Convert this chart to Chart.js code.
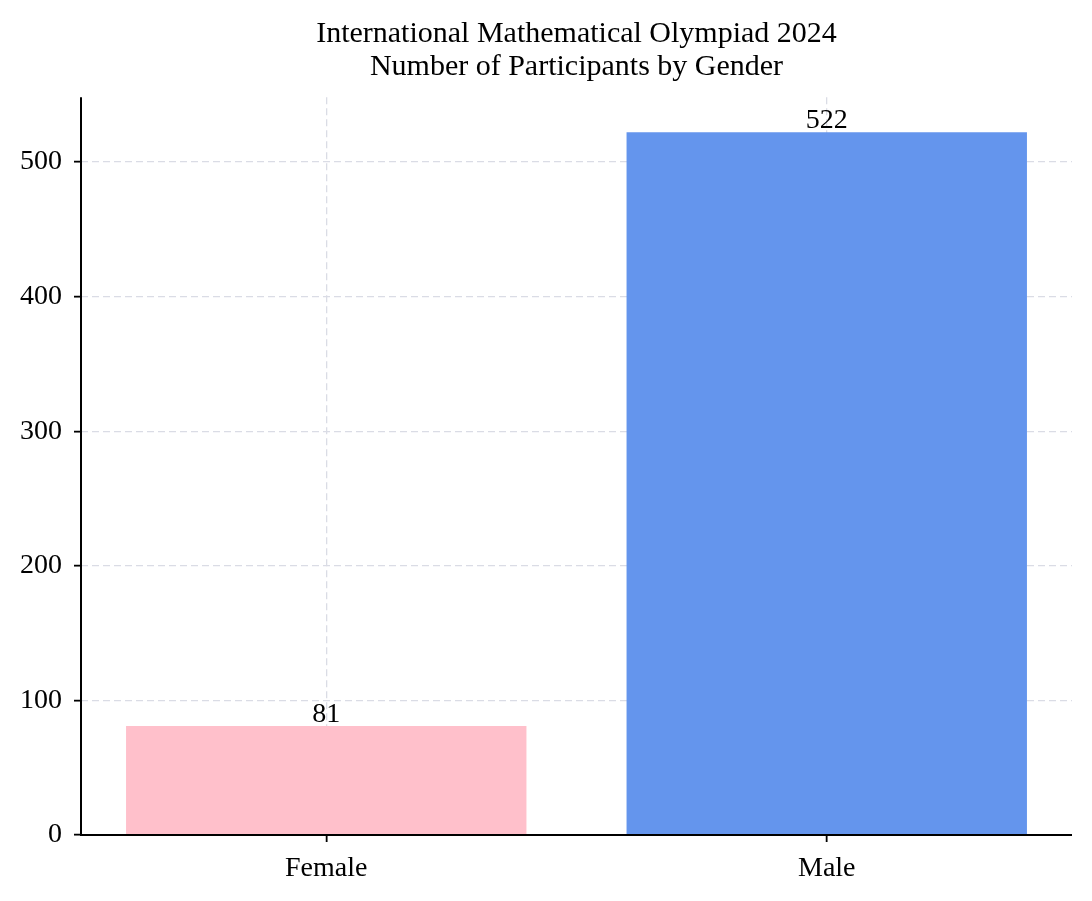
<!DOCTYPE html>
<html>
<head>
<meta charset="utf-8">
<script src="https://cdn.jsdelivr.net/npm/chart.js@4.4.1/dist/chart.umd.min.js"></script>
<style>
  html, body { margin: 0; padding: 0; background: #fff; }
  #wrap { width: 1092px; height: 901px; }
</style>
</head>
<body>
<div id="wrap"><canvas id="chart" width="1092" height="901"></canvas></div>
<script>
// data
const titleLines = ['International Mathematical Olympiad 2024', 'Number of Participants by Gender'];
const categories = ['Female', 'Male'];
const participants = [81, 522];
const barColors = ['#FFC0CB', '#6495ED'];
const yTicks = [0, 100, 200, 300, 400, 500];

const FONT = '"Liberation Serif", "Times New Roman", serif';
const gridColor = '#dadce5';

// bar value labels on top of each bar
const valueLabels = {
  id: 'valueLabels',
  afterDatasetsDraw(chart) {
    const ctx = chart.ctx;
    const meta = chart.getDatasetMeta(0);
    ctx.save();
    ctx.font = '28px ' + FONT;
    ctx.fillStyle = '#000';
    ctx.textAlign = 'center';
    ctx.textBaseline = 'alphabetic';
    meta.data.forEach((bar, i) => {
      ctx.fillText(String(participants[i]), bar.x, bar.y - 4);
    });
    ctx.restore();
  }
};

// left and bottom spines only
const spines = {
  id: 'spines',
  afterDatasetsDraw(chart) {
    const { ctx, chartArea } = chart;
    ctx.save();
    ctx.strokeStyle = '#000';
    ctx.lineWidth = 2;
    ctx.beginPath();
    ctx.moveTo(chartArea.left, chartArea.top);
    ctx.lineTo(chartArea.left, chartArea.bottom);
    ctx.lineTo(chartArea.right, chartArea.bottom);
    ctx.stroke();
    ctx.restore();
  }
};

new Chart(document.getElementById('chart'), {
  type: 'bar',
  data: {
    datasets: [{
      data: categories.map((c, i) => ({ x: i, y: participants[i] })),
      backgroundColor: barColors,
      borderWidth: 0,
      barPercentage: 0.8,
      categoryPercentage: 1.0
    }]
  },
  options: {
    responsive: false,
    animation: false,
    layout: { padding: { left: 0, right: 20, top: 0, bottom: 0 } },
    plugins: {
      legend: { display: false },
      tooltip: { enabled: false },
      title: {
        display: true,
        text: titleLines,
        fullSize: false,
        color: '#000',
        font: { family: FONT, size: 30, weight: 'normal', lineHeight: 1.12 },
        padding: { top: 17, bottom: 13 }
      }
    },
    scales: {
      x: {
        type: 'linear',
        offset: false,
        min: -0.49,
        max: 1.49,
        afterBuildTicks: (scale) => { scale.ticks = categories.map((c, i) => ({ value: i })); },
        afterFit: (scale) => { scale.height = 66; },
        ticks: {
          color: '#000',
          font: { family: FONT, size: 28 },
          padding: 10,
          callback: (v) => categories[v]
        },
        grid: {
          offset: false,
          color: gridColor,
          lineWidth: 1.3,
          tickColor: '#000',
          tickLength: 7,
          tickWidth: 1.8
        },
        border: { display: false, dash: [7, 4] }
      },
      y: {
        min: 0,
        max: 548.1,
        afterBuildTicks: (scale) => { scale.ticks = yTicks.map(v => ({ value: v })); },
        afterFit: (scale) => { scale.width = 81; },
        ticks: {
          color: '#000',
          font: { family: FONT, size: 28 },
          padding: 12
        },
        grid: {
          color: gridColor,
          lineWidth: 1.3,
          tickColor: '#000',
          tickLength: 7,
          tickWidth: 1.8
        },
        border: { display: false, dash: [7, 4] }
      }
    }
  },
  plugins: [valueLabels, spines]
});
</script>
</body>
</html>
